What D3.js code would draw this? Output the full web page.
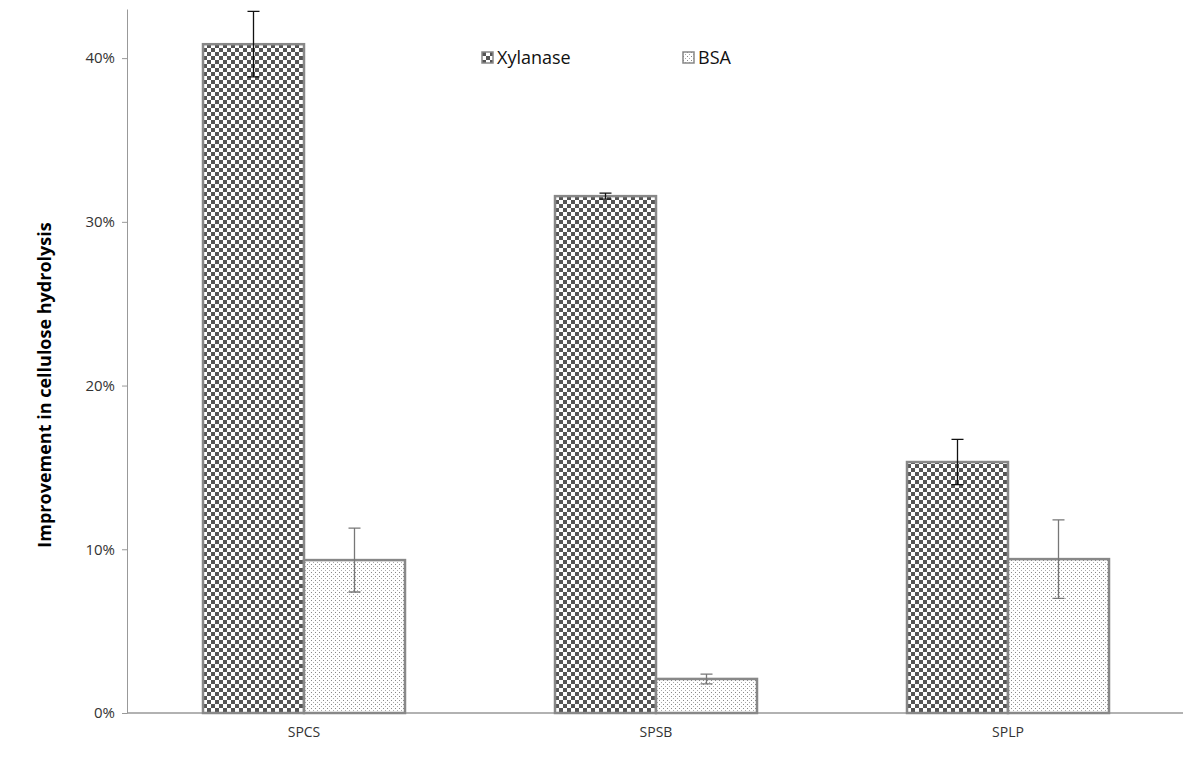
<!DOCTYPE html>
<html>
<head>
<meta charset="utf-8">
<script src="https://cdn.jsdelivr.net/npm/d3@7"></script>
<style>
  body { margin: 0; background: #fff; }
  text { font-family: "Open Sans", "Noto Sans", sans-serif; }
</style>
</head>
<body>
<div id="chart"></div>
<script>
// data
var categories = ["SPCS", "SPSB", "SPLP"];
var seriesNames = ["Xylanase", "BSA"];
var xylanase = [0.4085, 0.3157, 0.1533];
var xylanaseErr = [0.0200, 0.0018, 0.0138];
var bsa = [0.0934, 0.0208, 0.0940];
var bsaErr = [0.0195, 0.0030, 0.0240];
var yTicks = [0, 0.1, 0.2, 0.3, 0.4];

var svgWidth = 1200, svgHeight = 763;

var svg = d3.select("#chart").append("svg")
  .attr("width", svgWidth)
  .attr("height", svgHeight);

// fill patterns
var defs = svg.append("defs");
var checker = defs.append("pattern")
  .attr("id", "checker")
  .attr("patternUnits", "userSpaceOnUse")
  .attr("width", 8).attr("height", 8);
checker.append("rect").attr("width", 8).attr("height", 8).attr("fill", "#fff");
checker.append("rect").attr("width", 4).attr("height", 4).attr("fill", "#555");
checker.append("rect").attr("x", 4).attr("y", 4).attr("width", 4).attr("height", 4).attr("fill", "#555");

var dots = defs.append("pattern")
  .attr("id", "dots")
  .attr("patternUnits", "userSpaceOnUse")
  .attr("width", 4).attr("height", 4);
dots.append("rect").attr("width", 4).attr("height", 4).attr("fill", "#fff");
dots.append("rect").attr("width", 1).attr("height", 1).attr("fill", "#888");
dots.append("rect").attr("x", 2).attr("y", 2).attr("width", 1).attr("height", 1).attr("fill", "#aaa");

var fills = ["url(#checker)", "url(#dots)"];

// scales
var x0 = d3.scaleBand().domain(categories).range([128, 1184]);
var x1 = d3.scaleBand().domain(seriesNames).range([0, 202]);
var y = d3.scaleLinear().domain([0, 0.43]).range([713, 9]);

// y axis
var yAxis = svg.append("g")
  .attr("transform", "translate(127,0)")
  .call(d3.axisLeft(y).tickValues(yTicks).tickFormat(d3.format(".0%")).tickSize(5).tickSizeOuter(0));
yAxis.select(".domain").attr("stroke", "#999");
yAxis.selectAll(".tick line").attr("stroke", "#999");
yAxis.selectAll(".tick text").attr("font-size", 15).attr("fill", "#333").attr("x", -12)
  .attr("font-family", "'Open Sans', sans-serif");

// x axis
var xAxis = svg.append("g")
  .attr("transform", "translate(0,713)")
  .call(d3.axisBottom(x0).tickSize(0).tickSizeOuter(0));
xAxis.select(".domain").attr("stroke", "#999").attr("stroke-width", 1.5)
  .attr("d", "M127,0H1183");
xAxis.selectAll(".tick text").attr("font-size", 14).attr("fill", "#333").attr("dy", "1.5em")
  .attr("font-family", "'Open Sans', sans-serif");

// bars
var rows = categories.map(function(c, i) {
  return [
    {cat: c, s: "Xylanase", v: xylanase[i], e: xylanaseErr[i], k: 0},
    {cat: c, s: "BSA", v: bsa[i], e: bsaErr[i], k: 1}
  ];
});

var groups = svg.selectAll("g.grp")
  .data(rows)
  .enter().append("g")
  .attr("class", "grp")
  .attr("transform", function(d) { return "translate(" + (x0(d[0].cat) + x0.bandwidth() / 2 - 101) + ",0)"; });

groups.selectAll("rect")
  .data(function(d) { return d; })
  .enter().append("rect")
  .attr("x", function(d) { return x1(d.s); })
  .attr("y", function(d) { return y(d.v); })
  .attr("width", x1.bandwidth())
  .attr("height", function(d) { return y(0) - y(d.v); })
  .attr("fill", function(d) { return fills[d.k]; })
  .attr("stroke", "#888")
  .attr("stroke-width", 2.5);

// error bars
var errColor = ["#111", "#777"];
groups.selectAll("path.err")
  .data(function(d) { return d; })
  .enter().append("path")
  .attr("class", "err")
  .attr("fill", "none")
  .attr("stroke", function(d) { return errColor[d.k]; })
  .attr("stroke-width", 1.3)
  .attr("d", function(d) {
    var cx = x1(d.s) + x1.bandwidth() / 2;
    var t = y(d.v + d.e), b = y(d.v - d.e);
    return "M" + (cx - 6) + "," + t + "H" + (cx + 6) +
      "M" + cx + "," + t + "V" + b +
      "M" + (cx - 6) + "," + b + "H" + (cx + 6);
  });

// legend
var legendX = [482, 683];
var legend = svg.selectAll("g.leg")
  .data(seriesNames)
  .enter().append("g")
  .attr("class", "leg")
  .attr("transform", function(d, i) { return "translate(" + legendX[i] + ",52)"; });
legend.append("rect")
  .attr("width", 11).attr("height", 11)
  .attr("fill", function(d, i) { return fills[i]; })
  .attr("stroke", "#888").attr("stroke-width", 1.5);
legend.append("text")
  .attr("x", 15).attr("y", 12)
  .attr("font-size", 18).attr("fill", "#111")
  .text(function(d) { return d; });

// y axis label
svg.append("text")
  .attr("transform", "translate(51,385) rotate(-90)")
  .attr("text-anchor", "middle")
  .attr("font-size", 18)
  .attr("font-weight", "bold")
  .attr("fill", "#000")
  .text("Improvement in cellulose hydrolysis");
</script>
</body>
</html>
